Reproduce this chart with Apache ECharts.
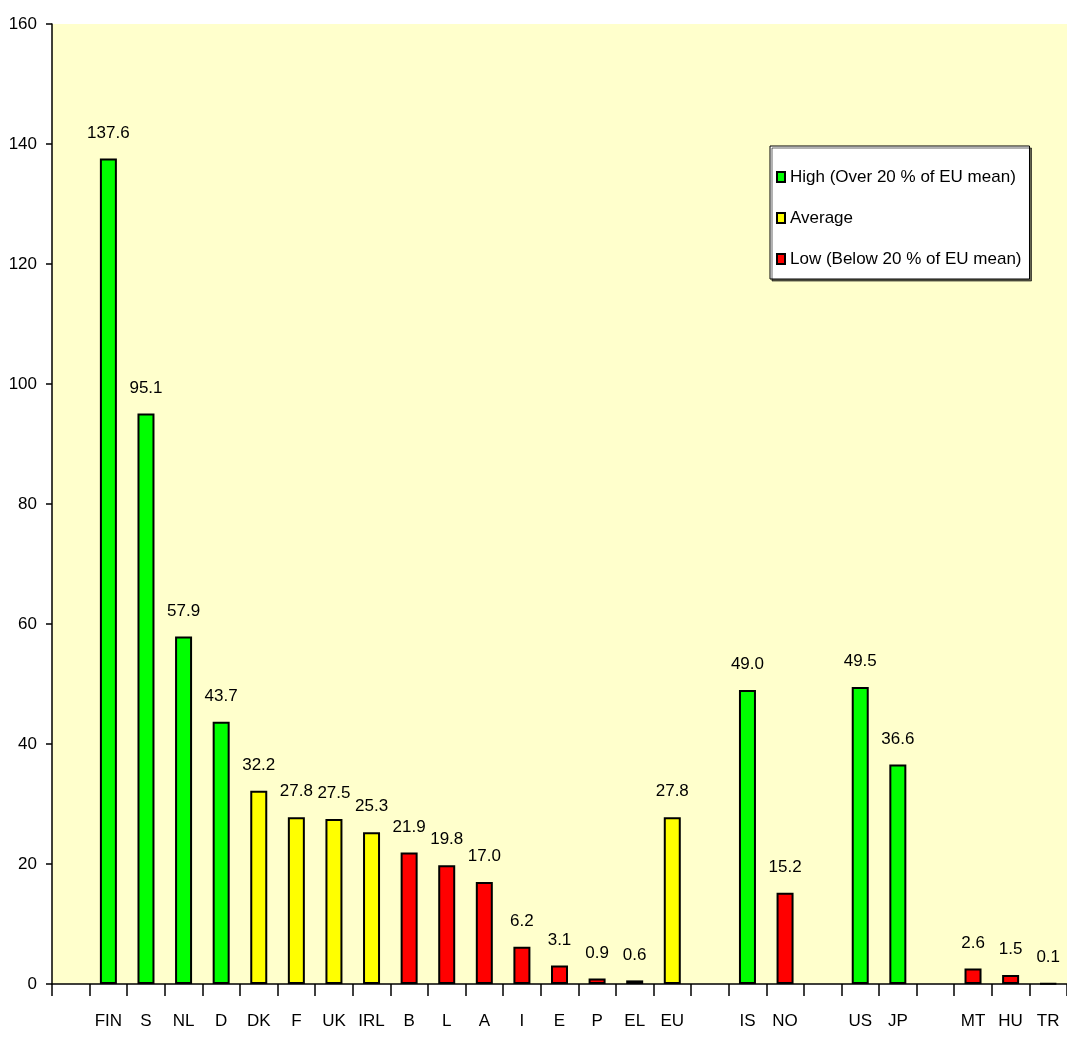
<!DOCTYPE html>
<html>
<head>
<meta charset="utf-8">
<script src="https://cdn.jsdelivr.net/npm/echarts@6/dist/echarts.min.js"></script>
<style>
  html, body { margin: 0; padding: 0; background: #ffffff; }
  #chart { width: 1067px; height: 1047px; }
</style>
</head>
<body>
<div id="chart"></div>
<script>
// Countries (blank entries are spacer slots between the country groups)
const categories = ['', 'FIN', 'S', 'NL', 'D', 'DK', 'F', 'UK', 'IRL', 'B', 'L', 'A', 'I', 'E', 'P', 'EL', 'EU',
  ' ', 'IS', 'NO', '  ', 'US', 'JP', '   ', 'MT', 'HU', 'TR'];
const values = [null, 137.6, 95.1, 57.9, 43.7, 32.2, 27.8, 27.5, 25.3, 21.9, 19.8, 17.0, 6.2, 3.1, 0.9, 0.6, 27.8,
  null, 49.0, 15.2, null, 49.5, 36.6, null, 2.6, 1.5, 0.1];
// H = high, A = average, L = low
const levels = ['', 'H', 'H', 'H', 'H', 'A', 'A', 'A', 'A', 'L', 'L', 'L', 'L', 'L', 'L', 'L', 'A',
  '', 'H', 'L', '', 'H', 'H', '', 'L', 'L', 'L'];
const groupNames = {
  H: 'High (Over 20 % of EU mean)',
  A: 'Average',
  L: 'Low (Below 20 % of EU mean)'
};
const groupColors = { H: '#00ff00', A: '#ffff00', L: '#ff0000' };
const yTicks = { min: 0, max: 160, interval: 20 };

const FONT = "'Liberation Sans', Arial, sans-serif";

const series = ['H', 'A', 'L'].map(function (key) {
  return {
    name: groupNames[key],
    type: 'bar',
    barWidth: 17,
    barGap: '-100%',
    itemStyle: { color: groupColors[key], borderColor: '#000', borderWidth: 2 },
    label: {
      show: true,
      position: 'top',
      distance: 17,
      color: '#000',
      fontFamily: FONT,
      fontSize: 17,
      formatter: function (p) { return p.value == null ? '' : Number(p.value).toFixed(1); }
    },
    data: values.map(function (v, i) { return levels[i] === key ? v : null; })
  };
});

const chart = echarts.init(document.getElementById('chart'));
chart.setOption({
  animation: false,
  backgroundColor: '#ffffff',
  textStyle: { fontFamily: FONT },
  grid: {
    left: 52, right: 0, top: 24, bottom: 63,
    show: true, backgroundColor: '#ffffcc', borderWidth: 0
  },
  legend: {
    orient: 'vertical',
    left: 770, top: 146,
    padding: [21, 8, 10, 6],
    itemWidth: 8, itemHeight: 10, itemGap: 21,
    icon: 'rect',
    backgroundColor: '#ffffff',
    borderColor: '#000', borderWidth: 1,
    shadowColor: 'rgba(0,0,0,0.6)', shadowOffsetX: 2, shadowOffsetY: 2, shadowBlur: 0,
    textStyle: { fontFamily: FONT, fontSize: 17, color: '#000', lineHeight: 20 },
    data: [groupNames.H, groupNames.A, groupNames.L]
  },
  xAxis: {
    type: 'category',
    data: categories,
    axisLine: { lineStyle: { color: '#000', width: 1.5 } },
    axisTick: { show: true, length: 12, interval: 0, lineStyle: { color: '#000', width: 1.5 } },
    axisLabel: { interval: 0, margin: 29, color: '#000', fontFamily: FONT, fontSize: 17 }
  },
  yAxis: {
    type: 'value',
    min: yTicks.min, max: yTicks.max, interval: yTicks.interval,
    splitLine: { show: false },
    axisLine: { show: true, lineStyle: { color: '#000', width: 1.5 } },
    axisTick: { show: true, length: 6, lineStyle: { color: '#000', width: 1.5 } },
    axisLabel: { margin: 15, color: '#000', fontFamily: FONT, fontSize: 17 }
  },
  series: series
});
</script>
</body>
</html>
